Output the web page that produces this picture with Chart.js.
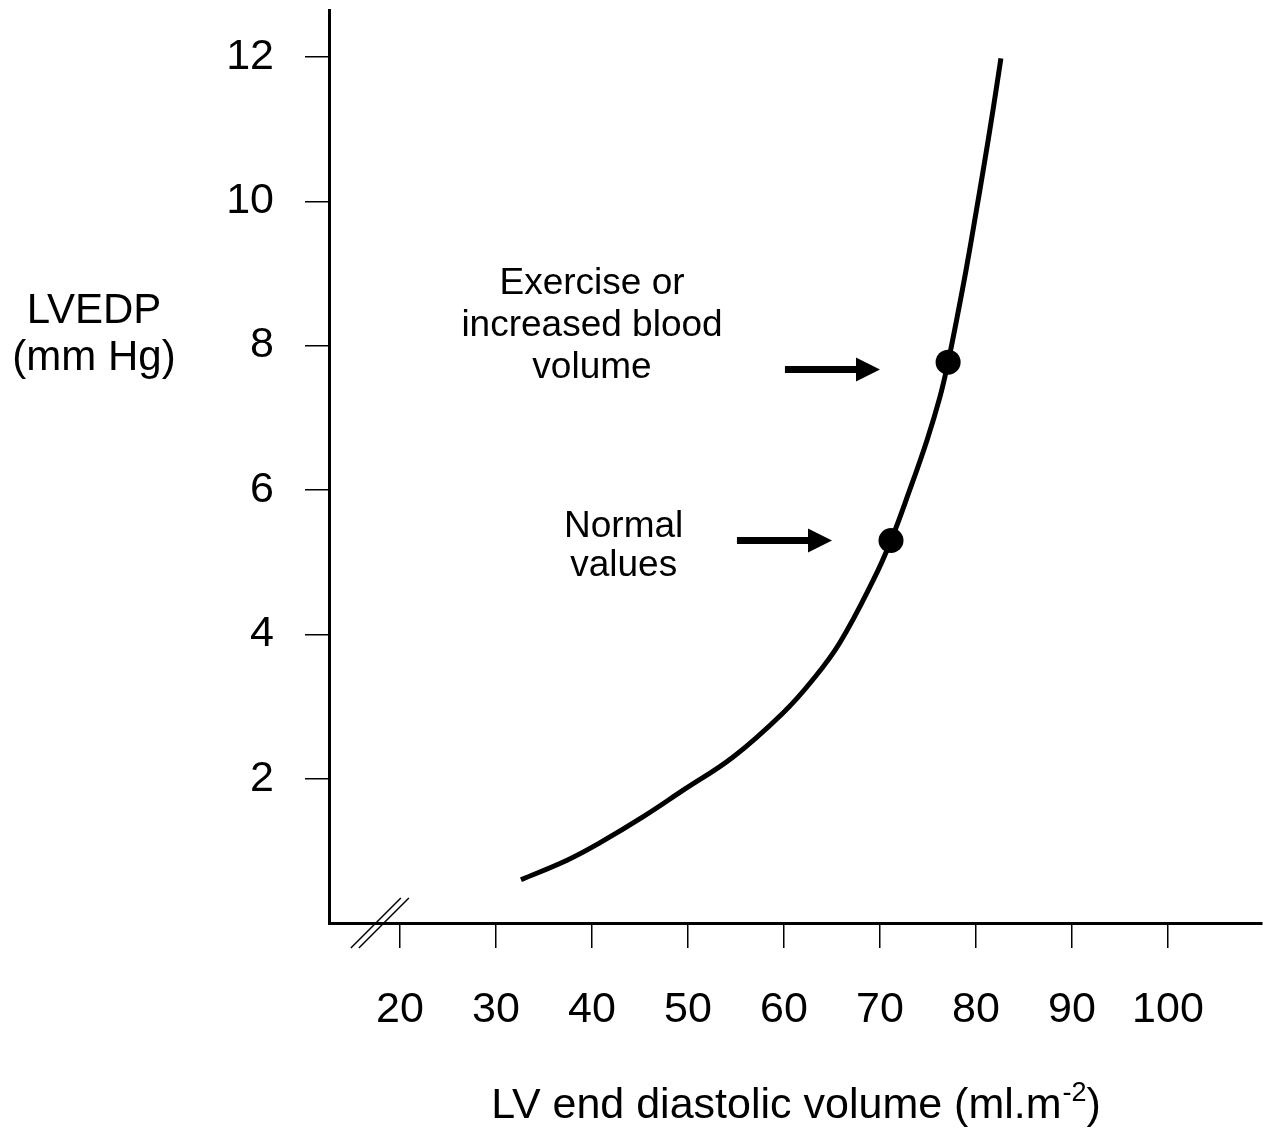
<!DOCTYPE html>
<html>
<head>
<meta charset="utf-8">
<title>LVEDP vs LV end diastolic volume</title>
<script src="https://cdn.jsdelivr.net/npm/chart.js@4.4.1/dist/chart.umd.min.js"></script>
<style>
  body { margin: 0; background: #fff; }
  canvas { display: block; }
</style>
</head>
<body>
<canvas id="grafico" width="1263" height="1128"></canvas>
<script>
// pressure-volume curve: LV end diastolic volume (ml/m2) vs LVEDP (mm Hg)
const volume = [32.6, 37.4, 40.8, 45.3, 49.5, 54.7, 59.9, 63.0, 65.8, 69.3, 71.15, 73.1, 74.9, 76.25, 77.1, 78.02, 78.96, 79.9, 80.83, 81.77, 82.6];
const pressure = [0.60, 0.87, 1.11, 1.47, 1.84, 2.30, 2.91, 3.37, 3.88, 4.75, 5.30, 6.00, 6.69, 7.29, 7.77, 8.38, 9.04, 9.76, 10.49, 11.26, 11.98];

// the two marked states on the curve
const markVolume = [71.15, 77.1];
const markPressure = [5.30, 7.77];

const xTicks = [20, 30, 40, 50, 60, 70, 80, 90, 100];
const yTicks = [2, 4, 6, 8, 10, 12];

const FONT = "'Liberation Sans', Arial, Helvetica, sans-serif";

// text blocks with their arrows (x/y in axis units)
const notes = [
  { lines: ['Exercise or', 'increased blood', 'volume'], x: 40.0, y: 8.71, step: 42, arrowFrom: 60.1, arrowTo: 70.0, arrowY: 7.67 },
  { lines: ['Normal', 'values'], x: 43.3, y: 5.35, step: 39, arrowFrom: 55.1, arrowTo: 65.0, arrowY: 5.30 }
];

function arrow(ctx, x1, x2, y) {
  const head = 24;
  ctx.lineWidth = 7;
  ctx.beginPath();
  ctx.moveTo(x1, y);
  ctx.lineTo(x2 - head + 2, y);
  ctx.stroke();
  ctx.beginPath();
  ctx.moveTo(x2, y);
  ctx.lineTo(x2 - head, y - 12);
  ctx.lineTo(x2 - head, y + 12);
  ctx.closePath();
  ctx.fill();
}

// scales get no extra room for overflowing labels
function noPadding(s) {
  s.paddingLeft = s.paddingRight = s.paddingTop = s.paddingBottom = 0;
}

const extras = {
  id: 'extras',
  afterDraw(chart) {
    const { ctx, chartArea } = chart;
    const xs = chart.scales.x, ys = chart.scales.y;
    ctx.save();
    ctx.fillStyle = '#000';
    ctx.strokeStyle = '#000';

    // notes and arrows
    ctx.font = `37px ${FONT}`;
    ctx.textAlign = 'center';
    ctx.textBaseline = 'alphabetic';
    notes.forEach(n => {
      const cx = xs.getPixelForValue(n.x);
      const y0 = ys.getPixelForValue(n.y);
      n.lines.forEach((t, i) => ctx.fillText(t, cx, y0 + i * n.step));
      arrow(ctx, xs.getPixelForValue(n.arrowFrom), xs.getPixelForValue(n.arrowTo), ys.getPixelForValue(n.arrowY));
    });

    // axis break marks
    const bx = xs.getPixelForValue(17.9), by = chartArea.bottom;
    ctx.lineWidth = 1.5;
    [-4, 4].forEach(d => {
      ctx.beginPath();
      ctx.moveTo(bx + d - 25, by + 25);
      ctx.lineTo(bx + d + 25, by - 25);
      ctx.stroke();
    });

    // y title
    ctx.font = `42px ${FONT}`;
    ctx.textAlign = 'center';
    const ty = ys.getPixelForValue(8);
    ctx.fillText('LVEDP', 94, ty - 23);
    ctx.fillText('(mm Hg)', 94, ty + 24);

    // x title with superscript
    const main = 'LV end diastolic volume (ml.m';
    const sup = '-2';
    const tail = ')';
    ctx.textAlign = 'left';
    ctx.font = `43px ${FONT}`;
    const wMain = ctx.measureText(main).width;
    const wTail = ctx.measureText(tail).width;
    ctx.font = `27px ${FONT}`;
    const wSup = ctx.measureText(sup).width;
    const base = 1118;
    const x0 = (chartArea.left + chartArea.right) / 2 - (wMain + wSup + wTail) / 2;
    ctx.font = `43px ${FONT}`;
    ctx.fillText(main, x0, base);
    ctx.font = `27px ${FONT}`;
    ctx.fillText(sup, x0 + wMain + 1, base - 17);
    ctx.font = `43px ${FONT}`;
    ctx.fillText(tail, x0 + wMain + wSup + 1, base);
    ctx.restore();
  }
};

new Chart(document.getElementById('grafico'), {
  type: 'scatter',
  data: {
    datasets: [
      {
        data: markVolume.map((v, i) => ({ x: v, y: markPressure[i] })),
        pointRadius: 12.5,
        pointBackgroundColor: '#000',
        pointBorderWidth: 0,
        showLine: false
      },
      {
        data: volume.map((v, i) => ({ x: v, y: pressure[i] })),
        showLine: true,
        borderColor: '#000',
        borderWidth: 5,
        pointRadius: 0,
        tension: 0.4,
        borderCapStyle: 'butt'
      }
    ]
  },
  options: {
    responsive: false,
    animation: false,
    devicePixelRatio: 1,
    layout: { autoPadding: false, padding: { top: 10, right: 1, bottom: 0, left: 0 } },
    plugins: { legend: { display: false }, tooltip: { enabled: false } },
    scales: {
      x: {
        type: 'linear',
        min: 12.6,
        max: 109.8,
        afterBuildTicks: s => { s.ticks = xTicks.map(v => ({ value: v })); },
        afterFit: s => { s.height = 205; noPadding(s); },
        border: { display: true, color: '#000', width: 3 },
        grid: { drawOnChartArea: false, drawTicks: true, tickLength: 25, color: '#000', lineWidth: 1.5 },
        ticks: { color: '#000', font: { family: FONT, size: 43 }, padding: 36, maxRotation: 0, autoSkip: false }
      },
      y: {
        type: 'linear',
        min: 0,
        max: 12.65,
        afterBuildTicks: s => { s.ticks = yTicks.map(v => ({ value: v })); },
        afterFit: s => { s.width = 329; noPadding(s); },
        border: { display: true, color: '#000', width: 3 },
        grid: { drawOnChartArea: false, drawTicks: true, tickLength: 24, color: '#000', lineWidth: 1.5 },
        ticks: { color: '#000', font: { family: FONT, size: 43 }, padding: 31, autoSkip: false }
      }
    }
  },
  plugins: [extras]
});
</script>
</body>
</html>
